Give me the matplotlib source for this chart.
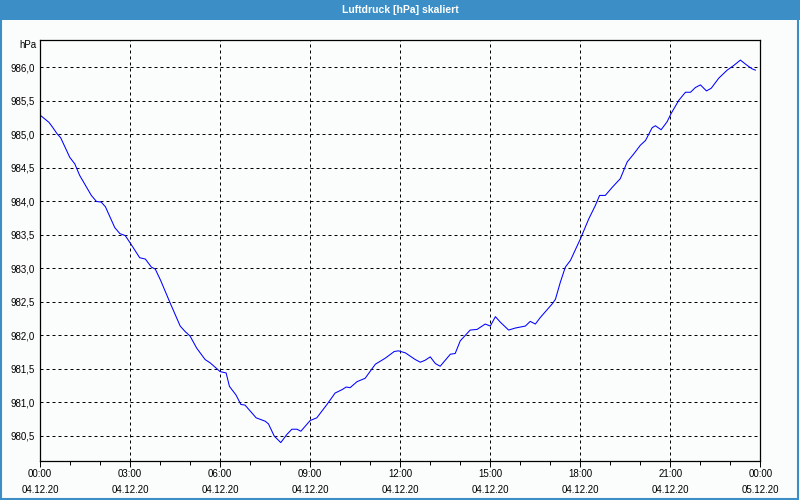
import matplotlib
matplotlib.use("Agg")
import matplotlib.pyplot as plt
from matplotlib.patches import Rectangle
from matplotlib.ticker import MultipleLocator, FixedLocator

# time in hours since 04.12.20 00:00
hours = [0.0, 0.3, 0.4, 0.57, 0.69, 0.99, 1.16, 1.32, 1.71, 1.88, 2.04, 2.18, 2.49, 2.66,
         2.84, 3.02, 3.32, 3.51, 3.71, 3.84, 4.02, 4.33, 4.67, 4.83, 5.0, 5.22, 5.5, 5.67,
         6.0, 6.2, 6.31, 6.53, 6.69, 6.83, 7.2, 7.5, 7.61, 7.8, 8.02, 8.22, 8.39, 8.56,
         8.69, 9.0, 9.22, 9.56, 9.83, 10.06, 10.2, 10.33, 10.56, 10.83, 11.17, 11.5, 11.8,
         11.94, 12.17, 12.5, 12.67, 12.83, 13.0, 13.17, 13.33, 13.67, 13.83, 14.0, 14.33,
         14.56, 14.83, 15.0, 15.17, 15.33, 15.61, 15.83, 16.17, 16.33, 16.5, 16.67, 17.06,
         17.17, 17.33, 17.5, 17.67, 18.0, 18.28, 18.5, 18.64, 18.83, 19.06, 19.33, 19.56,
         19.78, 20.0, 20.17, 20.39, 20.5, 20.69, 20.89, 21.02, 21.28, 21.5, 21.67, 21.83,
         22.0, 22.2, 22.36, 22.61, 22.89, 23.11, 23.33, 23.56, 23.72, 23.83]
pressure = [985.29, 985.18, 985.12, 985.01, 984.95, 984.66, 984.56, 984.39, 984.09, 984.00,
            983.99, 983.92, 983.61, 983.52, 983.49, 983.37, 983.16, 983.14, 983.02, 982.99,
            982.82, 982.49, 982.14, 982.06, 981.99, 981.81, 981.64, 981.59, 981.46, 981.44,
            981.24, 981.11, 980.97, 980.96, 980.77, 980.72, 980.68, 980.50, 980.40, 980.52,
            980.60, 980.60, 980.57, 980.73, 980.77, 980.97, 981.14, 981.19, 981.23, 981.22,
            981.31, 981.36, 981.57, 981.66, 981.76, 981.77, 981.74, 981.64, 981.60, 981.63,
            981.68, 981.58, 981.54, 981.72, 981.73, 981.92, 982.08, 982.09, 982.17, 982.14,
            982.28, 982.20, 982.08, 982.11, 982.14, 982.21, 982.17, 982.27, 982.47, 982.54,
            982.79, 983.02, 983.12, 983.44, 983.74, 983.94, 984.09, 984.09, 984.21, 984.34,
            984.59, 984.71, 984.84, 984.91, 985.10, 985.13, 985.07, 985.19, 985.31, 985.51,
            985.63, 985.63, 985.70, 985.74, 985.65, 985.69, 985.84, 985.96, 986.03, 986.11,
            986.03, 985.98, 985.96]

x_tick_hours = [0, 3, 6, 9, 12, 15, 18, 21, 24]
x_tick_labels = ["00:00\n04.12.20", "03:00\n04.12.20", "06:00\n04.12.20", "09:00\n04.12.20",
                 "12:00\n04.12.20", "15:00\n04.12.20", "18:00\n04.12.20", "21:00\n04.12.20",
                 "00:00\n05.12.20"]
y_ticks = [980.5, 981.0, 981.5, 982.0, 982.5, 983.0, 983.5, 984.0, 984.5, 985.0, 985.5, 986.0]
title = "Luftdruck [hPa] skaliert"
unit = "hPa"

plt.rcParams['font.family'] = ['Liberation Sans', 'DejaVu Sans']

bg = "#FBFDFC"
blue = "#3C8FC6"
fig = plt.figure(figsize=(8, 5), dpi=100, facecolor=bg)

# title bar and frame
fig.patches.append(Rectangle((0, 0.96), 1, 0.04, transform=fig.transFigure,
                             facecolor=blue, edgecolor="none", zorder=0))
fig.patches.append(Rectangle((0.001, 0.002), 0.997, 0.996, transform=fig.transFigure,
                             facecolor="none", edgecolor=blue, linewidth=1.5, zorder=1))
fig.text(0.5, 0.98, title, color="white", fontsize=7.5, fontweight="bold",
         ha="center", va="center")

ax = fig.add_axes([0.05, 0.0786, 0.9006, 0.8414], facecolor=bg)
ax.plot(hours, pressure, color="#0000FF", linewidth=0.75)

ax.set_xlim(0, 24)
ax.set_ylim(980.13, 986.41)
ax.xaxis.set_major_locator(FixedLocator(x_tick_hours))
ax.set_xticklabels(x_tick_labels)
ax.xaxis.set_minor_locator(MultipleLocator(1))
ax.set_yticks(y_ticks)
ax.set_yticklabels([f"{v:.1f}".replace(".", ",") for v in y_ticks])

for s in ax.spines.values():
    s.set_color("black")
    s.set_linewidth(0.9)

ax.grid(True, which="major", color="black", linestyle=(0, (3, 3)), linewidth=0.72)
ax.tick_params(axis="x", which="major", direction="out", length=4, width=0.7,
               labelsize=7, pad=2, colors="black")
ax.tick_params(axis="x", which="minor", direction="out", length=3, width=0.7)
ax.tick_params(axis="y", which="major", length=0, labelsize=7, pad=4)
for lab in ax.get_xticklabels():
    lab.set_linespacing(1.75)

fig.text(0.045, 0.911, unit, fontsize=7, ha="right", va="center")

fig.savefig("out.png", dpi=100, facecolor=bg)
